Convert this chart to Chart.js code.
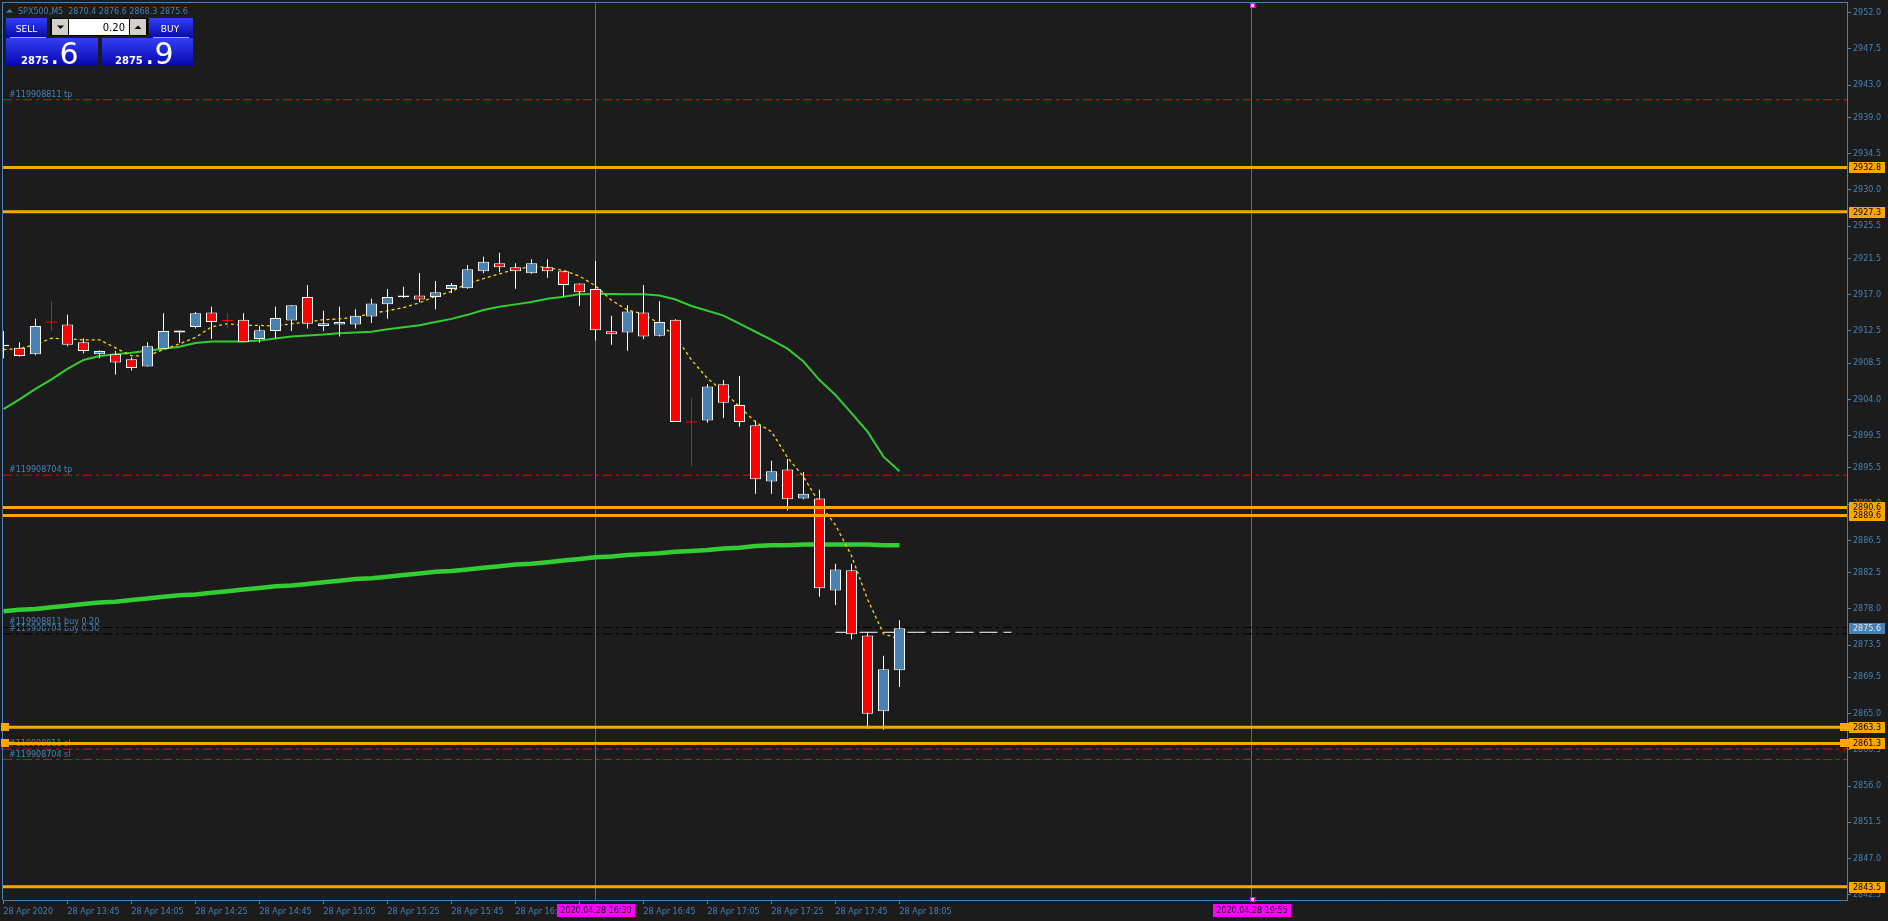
<!DOCTYPE html>
<html>
<head>
<meta charset="utf-8">
<title>SPX500,M5</title>
<script src="https://cdn.jsdelivr.net/npm/chart.js@4.4.0/dist/chart.umd.min.js"></script>
<style>
  html, body { margin: 0; padding: 0; background: #1c1c1c; overflow: hidden; }
  #chart { display: block; }
</style>
</head>
<body>
<canvas id="chart" width="1888" height="921"></canvas>
<script>
// Candles, 5 minute bars from 28 Apr 13:25 to 18:05
const candleOpen = [2910.8, 2910.4, 2909.6, 2913.6, 2913.3, 2911.1, 2909.6, 2909.6, 2909.0, 2908.1,
  2910.3, 2912.3, 2913.0, 2914.8, 2913.8, 2913.9, 2911.5, 2912.5, 2913.8, 2916.7,
  2913.1, 2913.3, 2913.3, 2914.3, 2915.8, 2916.9, 2916.9, 2916.7, 2917.7, 2917.8,
  2919.9, 2920.9, 2920.4, 2919.65, 2920.4, 2919.9, 2918.4, 2917.7, 2912.45, 2912.3,
  2914.8, 2911.9, 2913.9, 2901.2, 2901.4, 2905.9, 2903.3, 2900.8, 2893.8, 2895.3,
  2891.7, 2891.7, 2880.3, 2882.8, 2874.7, 2865.3, 2870.4];
const candleHigh = [2912.5, 2911.1, 2914.0, 2916.2, 2914.5, 2911.6, 2910.1, 2910.0, 2909.2, 2911.1,
  2914.7, 2912.6, 2914.85, 2915.5, 2914.7, 2914.7, 2913.1, 2915.5, 2915.7, 2918.2,
  2915.0, 2915.5, 2915.2, 2916.5, 2917.7, 2918.0, 2919.7, 2918.7, 2918.45, 2920.7,
  2921.7, 2922.2, 2920.9, 2921.4, 2921.4, 2919.9, 2918.4, 2921.2, 2914.4, 2915.7,
  2918.2, 2916.2, 2913.95, 2904.2, 2905.9, 2906.4, 2906.9, 2901.4, 2896.4, 2896.6,
  2895.0, 2892.8, 2883.6, 2883.6, 2875.0, 2872.2, 2876.6];
const candleLow = [2909.1, 2909.3, 2909.5, 2912.5, 2910.6, 2909.7, 2909.1, 2907.1, 2907.6, 2908.1,
  2910.3, 2911.05, 2912.8, 2911.5, 2912.8, 2911.1, 2911.05, 2911.6, 2912.5, 2912.8,
  2912.5, 2911.8, 2912.8, 2913.5, 2914.0, 2916.6, 2916.05, 2915.2, 2917.2, 2917.75,
  2919.65, 2919.8, 2917.75, 2919.6, 2919.1, 2916.7, 2915.6, 2911.3, 2910.8, 2910.05,
  2911.5, 2911.8, 2901.2, 2895.7, 2901.1, 2901.7, 2900.6, 2892.3, 2892.3, 2890.2,
  2891.6, 2879.5, 2878.5, 2874.2, 2863.1, 2863.0, 2868.3];
const candleClose = [2910.6, 2909.4, 2913.1, 2913.6, 2910.8, 2910.0, 2910.0, 2908.6, 2907.9, 2910.6,
  2912.5, 2912.55, 2914.7, 2913.6, 2913.8, 2911.1, 2912.6, 2914.1, 2915.7, 2913.4,
  2913.45, 2913.6, 2914.4, 2915.9, 2916.7, 2916.7, 2916.4, 2917.3, 2918.2, 2920.15,
  2921.1, 2920.4, 2919.9, 2920.9, 2919.9, 2918.2, 2917.3, 2912.6, 2912.1, 2914.9,
  2911.8, 2913.6, 2901.2, 2901.2, 2905.6, 2903.6, 2901.2, 2894.1, 2895.1, 2891.6,
  2892.3, 2880.55, 2882.9, 2874.85, 2865.0, 2870.5, 2875.6];

// Moving averages
const maFast = [2910.2, 2910.3, 2910.8, 2911.6, 2911.5, 2911.4, 2911.4, 2910.4, 2909.4, 2909.4,
  2910.2, 2910.9, 2911.7, 2913.0, 2913.4, 2913.2, 2913.2, 2913.1, 2913.4, 2913.6,
  2913.9, 2914.0, 2914.2, 2914.7, 2915.0, 2915.4, 2916.0, 2916.8, 2917.4, 2918.4,
  2919.0, 2919.6, 2920.15, 2920.5, 2920.4, 2920.0, 2919.3, 2918.1, 2916.3, 2915.1,
  2914.6, 2913.4, 2911.8, 2908.9, 2906.6, 2905.0, 2903.1, 2901.2, 2900.0, 2896.8,
  2894.4, 2891.1, 2888.4, 2884.6, 2879.2, 2874.9, 2874.3];
const maMid = [2902.8, 2904.0, 2905.3, 2906.5, 2907.8, 2908.9, 2909.4, 2909.6, 2909.8, 2910.05,
  2910.3, 2910.55, 2911.0, 2911.2, 2911.2, 2911.2, 2911.3, 2911.55, 2911.8, 2911.95,
  2912.05, 2912.2, 2912.3, 2912.4, 2912.7, 2912.95, 2913.2, 2913.6, 2914.0, 2914.5,
  2915.1, 2915.5, 2915.8, 2916.1, 2916.5, 2916.75, 2917.05, 2917.1, 2917.1, 2917.05,
  2917.05, 2916.9, 2916.4, 2915.6, 2915.0, 2914.4, 2913.4, 2912.4, 2911.4, 2910.3,
  2908.7, 2906.4, 2904.55, 2902.3, 2900.0, 2896.9, 2895.1];
const maSlow = [2877.7, 2877.9, 2878.0, 2878.2, 2878.4, 2878.6, 2878.8, 2878.9, 2879.1, 2879.3,
  2879.5, 2879.7, 2879.8, 2880.0, 2880.2, 2880.4, 2880.6, 2880.8, 2880.9, 2881.1,
  2881.3, 2881.5, 2881.7, 2881.8, 2882.0, 2882.2, 2882.4, 2882.6, 2882.7, 2882.9,
  2883.1, 2883.3, 2883.5, 2883.6, 2883.8, 2884.0, 2884.2, 2884.4, 2884.5, 2884.7,
  2884.8, 2884.9, 2885.1, 2885.2, 2885.3, 2885.5, 2885.6, 2885.8, 2885.9, 2885.9,
  2886.0, 2886.0, 2886.0, 2886.0, 2886.0, 2885.9, 2885.9];

// Axes
const xTickIdx = [0, 4, 8, 12, 16, 20, 24, 28, 32, 36, 40, 44, 48, 52, 56];
const xTickLabels = ['28 Apr 2020', '28 Apr 13:45', '28 Apr 14:05', '28 Apr 14:25', '28 Apr 14:45',
  '28 Apr 15:05', '28 Apr 15:25', '28 Apr 15:45', '28 Apr 16:05', '28 Apr 16:25', '28 Apr 16:45',
  '28 Apr 17:05', '28 Apr 17:25', '28 Apr 17:45', '28 Apr 18:05'];
const yTicks = [2952.0, 2947.5, 2943.0, 2939.0, 2934.5, 2930.0, 2925.5, 2921.5, 2917.0, 2912.5,
  2908.5, 2904.0, 2899.5, 2895.5, 2891.0, 2886.5, 2882.5, 2878.0, 2873.5, 2869.5, 2865.0,
  2860.5, 2856.0, 2851.5, 2847.0, 2842.5];
const xMin = -0.03125, xMax = 115.21875;
const yMin = 2841.87, yMax = 2953.33;

// Objects on the chart
const levelValues = [2932.8, 2927.3, 2890.6, 2889.6, 2863.3, 2861.3, 2843.5];
const selectedLevels = [2863.3, 2861.3];
const tpValues = [2941.2, 2894.6];
const tpNames = ['#119908811 tp', '#119908704 tp'];
const entryValues = [2875.7, 2874.9];
const entryNames = ['#119908811 buy 0.20', '#119908704 buy 0.30'];
const slValues = [2860.6, 2859.3];
const slNames = ['#119908811 sl', '#119908704 sl'];
const vLineIdx = [37, 78];
const vLineLabels = ['2020.04.28 16:30', '2020.04.28 19:55'];
const vLineSelected = [false, true];
const priceLineRange = [52, 63];
const priceLineValue = 2875.1;
const bidPrice = 2875.6;
const askPrice = 2875.9;
const lotSize = '0.20';

const AXIS = '#4682b4';
const BULL = '#4682b4';
const BEAR = '#ff0000';
const ORANGE = '#ffa500';
const FONT = "'DejaVu Sans', sans-serif";

const idx = candleOpen.map((_, i) => i);
const isDoji = i => candleOpen[i] === candleClose[i];
const bodyData = idx.filter(i => !isDoji(i)).map(i => ({x: i, y: [candleOpen[i], candleClose[i]]}));
const wickData = idx.map(i => ({x: i, y: [candleLow[i], candleHigh[i]], doji: isDoji(i)}));
const dojiData = idx.filter(isDoji).map(i => ({x: i, y: candleOpen[i]}));
const series = arr => arr.map((v, i) => ({x: i, y: v}));
const hLine = v => [{x: xMin, y: v}, {x: xMax, y: v}];

function lineSet(data, color, width, dash, order) {
    return {
        type: 'line', data: data, borderColor: color, borderWidth: width,
        borderDash: dash || [], pointRadius: 0, fill: false, tension: 0, order: order
    };
}

const datasets = [];
// vertical lines (bottom)
vLineIdx.forEach(v => datasets.push(lineSet([{x: v, y: yMin}, {x: v, y: yMax}], '#ff00ff', 1, null, 9)));
// trade lines
tpValues.forEach(v => datasets.push(lineSet(hLine(v), '#ff0000', 1, [9, 4, 3, 4], 8)));
slValues.forEach(v => datasets.push(lineSet(hLine(v), '#ff0000', 1, [9, 4, 3, 4], 8)));
entryValues.forEach(v => datasets.push(lineSet(hLine(v), '#000000', 1, [9, 4, 3, 4], 8)));
datasets.push(lineSet([{x: priceLineRange[0], y: priceLineValue}, {x: priceLineRange[1], y: priceLineValue}], '#ffffff', 1, [18, 6], 8));
// moving averages
datasets.push(lineSet(series(maSlow), '#32cd32', 4.5, null, 7));
datasets.push(lineSet(series(maMid), '#32cd32', 2, null, 6));
datasets.push(lineSet(series(maFast), '#ffd700', 1.3, [3, 3], 5));
// candles
datasets.push({
    type: 'bar', data: wickData, grouped: false, barThickness: 1, inflateAmount: 0,
    borderWidth: 0, clip: 0, order: 4,
    backgroundColor: c => (c.raw && c.raw.doji) ? BEAR : '#ffffff'
});
datasets.push({
    type: 'bar', data: bodyData, grouped: false, barThickness: 11, inflateAmount: 0,
    borderWidth: 1, borderColor: '#ffffff', borderSkipped: false, clip: 0, order: 3,
    backgroundColor: c => (c.raw && c.raw.y[1] > c.raw.y[0]) ? BULL : BEAR
});
datasets.push({
    type: 'line', data: dojiData, showLine: false, pointStyle: 'line', pointRadius: 5.5,
    pointBorderColor: BEAR, pointBorderWidth: 1, order: 3
});
// horizontal levels (top)
levelValues.forEach(v => datasets.push(lineSet(hLine(v), ORANGE, 3, null, 1)));

function gradient(ctx, y0, y1) {
    const g = ctx.createLinearGradient(0, y0, 0, y1);
    g.addColorStop(0, '#3340f2');
    g.addColorStop(1, '#0606b0');
    return g;
}

function drawPanel(ctx) {
    const last = candleOpen.length - 1;
    // header
    ctx.fillStyle = AXIS;
    ctx.beginPath(); ctx.moveTo(6, 12.5); ctx.lineTo(13, 12.5); ctx.lineTo(9.5, 9); ctx.closePath(); ctx.fill();
    ctx.font = '8px ' + FONT;
    ctx.textAlign = 'left'; ctx.textBaseline = 'alphabetic';
    ctx.fillText('SPX500,M5  ' + [candleOpen[last], candleHigh[last], candleLow[last], candleClose[last]]
        .map(v => v.toFixed(1)).join(' '), 18, 13.5);

    // sell / buy tabs
    ctx.fillStyle = gradient(ctx, 18, 38);
    ctx.fillRect(6, 18, 41, 20);
    ctx.fillRect(149, 18, 44, 20);
    ctx.fillStyle = gradient(ctx, 38, 66);
    ctx.fillRect(6, 38, 92, 28);
    ctx.fillRect(102, 38, 91, 28);
    ctx.fillStyle = '#9aa6ff';
    ctx.fillRect(10, 37, 36, 1);
    ctx.fillRect(153, 37, 36, 1);
    ctx.fillStyle = '#ffffff';
    ctx.font = '9px ' + FONT;
    ctx.textAlign = 'center';
    ctx.fillText('SELL', 26.5, 31.5);
    ctx.fillText('BUY', 170, 31.5);

    // lot size spinner
    ctx.fillStyle = '#000000'; ctx.fillRect(50, 18, 98, 18);
    ctx.fillStyle = '#d4d0c8'; ctx.fillRect(52, 19, 16, 16); ctx.fillRect(130, 19, 16, 16);
    ctx.fillStyle = '#ffffff'; ctx.fillRect(69, 19, 60, 16);
    ctx.fillStyle = '#000000';
    ctx.beginPath(); ctx.moveTo(57, 25.5); ctx.lineTo(64, 25.5); ctx.lineTo(60.5, 29); ctx.closePath(); ctx.fill();
    ctx.beginPath(); ctx.moveTo(134.5, 29); ctx.lineTo(141.5, 29); ctx.lineTo(138, 25.5); ctx.closePath(); ctx.fill();
    ctx.font = '10px ' + FONT;
    ctx.textAlign = 'right';
    ctx.fillText(lotSize, 125, 31);

    // prices
    const drawPrice = (p, x0, xDot) => {
        const s = p.toFixed(1).split('.');
        ctx.fillStyle = '#ffffff';
        ctx.textAlign = 'left';
        ctx.font = 'bold 10px ' + FONT;
        ctx.fillText(s[0], x0, 63.5);
        ctx.font = '30px ' + FONT;
        ctx.fillText('.' + s[1], xDot, 63.5);
    };
    drawPrice(bidPrice, 21, 50);
    drawPrice(askPrice, 115, 145);
}

const mt4Plugin = {
    id: 'mt4',
    beforeDatasetsDraw(chart) {
        const {ctx, scales: {y}} = chart;
        ctx.save();
        ctx.font = '8px ' + FONT;
        ctx.fillStyle = AXIS;
        ctx.textAlign = 'left';
        ctx.textBaseline = 'alphabetic';
        const put = (vals, names) => vals.forEach((v, i) => ctx.fillText(names[i], 9, Math.round(y.getPixelForValue(v)) - 3));
        put(tpValues, tpNames);
        put(entryValues, entryNames);
        put(slValues, slNames);
        ctx.restore();
    },
    afterDraw(chart) {
        const {ctx, chartArea: a, scales: {x, y}} = chart;
        ctx.save();
        // frame top and left
        ctx.fillStyle = AXIS;
        ctx.fillRect(a.left - 1, a.top, a.right - a.left + 1, 1);
        ctx.fillRect(a.left - 1, a.top, 1, a.bottom - a.top);

        ctx.font = '8px ' + FONT;
        ctx.textBaseline = 'middle';
        ctx.textAlign = 'left';
        // selected level handles
        ctx.fillStyle = ORANGE;
        selectedLevels.forEach(v => {
            const py = Math.round(y.getPixelForValue(v));
            ctx.fillRect(1, py - 4, 8, 8);
            ctx.fillRect(a.right - 7, py - 4, 9, 8);
        });
        // level labels on the price axis
        levelValues.forEach(v => {
            const py = Math.round(y.getPixelForValue(v));
            ctx.fillStyle = ORANGE;
            ctx.fillRect(a.right + 2, py - 5, 36, 11);
            ctx.fillStyle = '#000000';
            ctx.fillText(v.toFixed(1), a.right + 6, py + 0.5);
        });
        // bid label
        const pb = Math.round(y.getPixelForValue(bidPrice));
        ctx.fillStyle = AXIS;
        ctx.fillRect(a.right + 2, pb - 5, 36, 11);
        ctx.fillStyle = '#e4e4e4';
        ctx.fillText(bidPrice.toFixed(1), a.right + 6, pb + 0.5);

        // vertical line time labels and handles
        ctx.textAlign = 'center';
        vLineIdx.forEach((v, i) => {
            const px = Math.round(x.getPixelForValue(v));
            ctx.fillStyle = '#ff00ff';
            ctx.fillRect(px - 39, a.bottom + 4, 78, 13);
            ctx.fillStyle = '#000000';
            ctx.fillText(vLineLabels[i], px, a.bottom + 11);
            if (vLineSelected[i]) {
                [a.top + 1, a.bottom - 3].forEach(ty => {
                    ctx.fillStyle = '#ff00ff';
                    ctx.fillRect(px - 2, ty, 5, 5);
                    ctx.fillStyle = '#ffffff';
                    ctx.fillRect(px - 1, ty + 1, 3, 3);
                });
            }
        });

        drawPanel(ctx);
        ctx.restore();
    }
};

new Chart(document.getElementById('chart'), {
    type: 'bar',
    data: {datasets: datasets},
    plugins: [mt4Plugin],
    options: {
        responsive: false,
        animation: false,
        devicePixelRatio: 1,
        events: [],
        layout: {autoPadding: false, padding: {left: 3, top: 2, right: 0, bottom: 0}},
        plugins: {legend: {display: false}, tooltip: {enabled: false}},
        scales: {
            x: {
                type: 'linear', position: 'bottom', min: xMin, max: xMax, offset: false,
                grid: {display: true, drawOnChartArea: false, drawTicks: true, tickLength: 4, color: AXIS, offset: false},
                border: {display: true, color: AXIS, width: 1},
                ticks: {
                    autoSkip: false, maxRotation: 0, minRotation: 0, align: 'start', padding: 3,
                    color: AXIS, font: {family: FONT, size: 8},
                    callback: v => { const k = xTickIdx.indexOf(v); return k < 0 ? '' : xTickLabels[k]; }
                },
                afterBuildTicks: s => { s.ticks = xTickIdx.map(v => ({value: v})); },
                afterFit: s => { s.height = 21; s.paddingLeft = 0; s.paddingRight = 0; }
            },
            y: {
                type: 'linear', position: 'right', min: yMin, max: yMax, stacked: false, beginAtZero: false,
                grid: {display: true, drawOnChartArea: false, drawTicks: true, tickLength: 4, color: AXIS},
                border: {display: true, color: AXIS, width: 1},
                ticks: {
                    autoSkip: false, padding: 2, color: AXIS, font: {family: FONT, size: 8},
                    callback: v => v.toFixed(1)
                },
                afterBuildTicks: s => { s.ticks = yTicks.map(v => ({value: v})); },
                afterFit: s => { s.width = 41; s.paddingTop = 0; s.paddingBottom = 0; }
            }
        }
    }
});
</script>
</body>
</html>
